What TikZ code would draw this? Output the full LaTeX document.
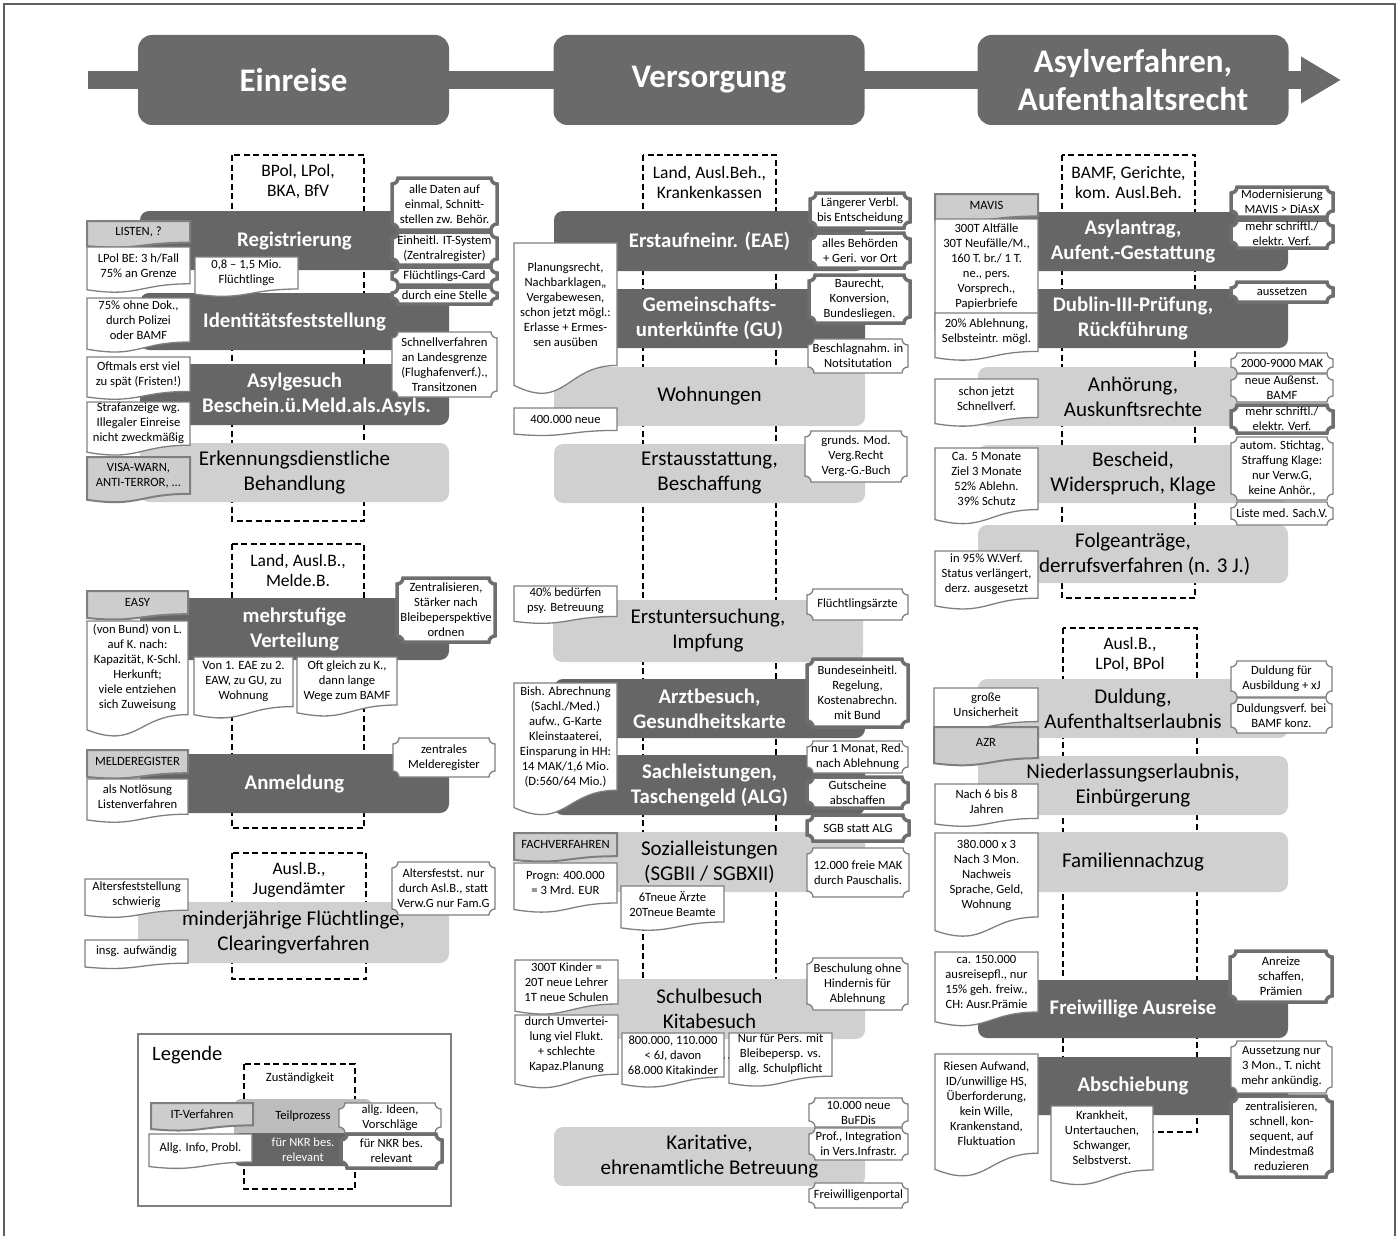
\documentclass[tikz,border=0pt]{standalone}
\usepackage{fontspec}
\setmainfont{Carlito}
\usetikzlibrary{arrows.meta}
\definecolor{dk}{HTML}{666666}
\definecolor{hd}{HTML}{6A6A6A}
\definecolor{lt}{HTML}{D0D0D0}
\definecolor{lg}{HTML}{BDBDBD}
\definecolor{itg}{HTML}{CDCDCD}
\definecolor{ln}{HTML}{7F7F7F}
\definecolor{thk}{HTML}{6E6E6E}
\definecolor{frm}{HTML}{5E5E5E}
\tikzset{
  headbox/.style={fill=hd, rounded corners=14pt, text=white, font=\bfseries\fontsize{33}{38}\selectfont, align=center, inner sep=0pt, minimum width=311pt, minimum height=90pt},
  darkproc/.style={fill=dk, rounded corners=9pt, text=white, font=\bfseries\fontsize{20.8}{25}\selectfont, align=center, inner sep=0pt},
  lightproc/.style={fill=lt, rounded corners=9pt, text=black, font=\fontsize{21}{25}\selectfont, align=center, inner sep=0pt},
  legproc/.style={fill=lg, rounded corners=7pt, text=black, font=\fontsize{12.5}{15}\selectfont, align=center, inner sep=0pt},
  legdark/.style={fill=dk, rounded corners=7pt, text=white, font=\fontsize{12.5}{15}\selectfont, align=center, inner sep=0pt},
  notetext/.style={font=\fontsize{12.6}{15}\selectfont, align=center, inner sep=0pt, text=black},
  docw/.style={draw=ln, line width=1.3pt, fill=white},
  docg/.style={draw=ln, line width=2pt, fill=itg},
  thinplaque/.style={draw=ln, line width=1.3pt, fill=white},
  thickplaque/.style={draw=thk, line width=3.5pt, fill=white},
  respbox/.style={draw=black, line width=1.8pt, dash pattern=on 6pt off 3.5pt, fill=white},
  resptext/.style={font=\fontsize{17.5}{20}\selectfont, align=center, inner sep=0pt},
}
% process box: name, x1, y1, x2, y2, style, text
\newcommand{\mkproc}[7]{%
  \pgfmathsetmacro\qW{#4-#2}\pgfmathsetmacro\qH{#5-#3}%
  \pgfmathsetmacro\qX{(#2+#4)/2}\pgfmathsetmacro\qY{(#3+#5)/2}%
  \node[#6, minimum width=\qW pt, minimum height=\qH pt] (#1) at (\qX,\qY) {#7};%
}
% document note with wavy bottom: name, x1, y1, x2, y2 (lowest), style, text
\newcommand{\mkdoc}[7]{%
  \pgfmathsetmacro\qh{#5-#3}%
  \pgfmathsetmacro\qr{#3+0.80*\qh}%
  \pgfmathsetmacro\ql{#3+0.93*\qh}%
  \pgfmathsetmacro\qc{#3+1.10*\qh}%
  \pgfmathsetmacro\qm{(#2+#4)/2}%
  \pgfmathsetmacro\qt{#3+0.40*\qh}%
  \filldraw[#6] (#2,#3) -- (#4,#3) -- (#4,\qr) .. controls (\qm,\qr) and (\qm,\qc) .. (#2,\ql) -- cycle;%
  \node[notetext] (#1) at (\qm,\qt) {#7};%
}
% plaque note with concave corners: name, x1, y1, x2, y2, style, text
\newcommand{\mkplaque}[7]{%
  \pgfmathsetmacro\pA{#2+6}\pgfmathsetmacro\pB{#4-6}%
  \pgfmathsetmacro\pC{#3+6}\pgfmathsetmacro\pD{#5-6}%
  \pgfmathsetmacro\pE{#2+3.3}\pgfmathsetmacro\pF{#4-3.3}%
  \pgfmathsetmacro\pG{#3+3.3}\pgfmathsetmacro\pH{#5-3.3}%
  \filldraw[#6] (\pA,#3) -- (\pB,#3) .. controls (\pB,\pG) and (\pF,\pC) .. (#4,\pC)
     -- (#4,\pD) .. controls (\pF,\pD) and (\pB,\pH) .. (\pB,#5)
     -- (\pA,#5) .. controls (\pA,\pH) and (\pE,\pD) .. (#2,\pD)
     -- (#2,\pC) .. controls (\pE,\pC) and (\pA,\pG) .. (\pA,#3) -- cycle;%
  \pgfmathsetmacro\qX{(#2+#4)/2}\pgfmathsetmacro\qY{(#3+#5)/2}%
  \node[notetext] (#1) at (\qX,\qY) {#7};%
}
% responsibility box: name, x1, y1, x2, y2, text y, text
\newcommand{\mkresp}[7]{%
  \draw[respbox] (#2,#3) rectangle (#4,#5);%
  \pgfmathsetmacro\qX{(#2+#4)/2}%
  \node[resptext] (#1) at (\qX,#6) {#7};%
}
\begin{document}
\begin{tikzpicture}[x=1pt,y=-1pt]
\useasboundingbox (0,0) rectangle (1400,1236);
\draw[frm, line width=1.5pt] (4,1240) -- (4,4) -- (1395,4) -- (1395,1240);
% ---------------- header
\coordinate (arrS) at (88,80);
\coordinate (arrE) at (1341,80);
\draw[hd, line width=18pt, -{Triangle[length=40pt,width=44pt]}] (arrS) -- (arrE);
\node[headbox] (hEin) at (293.5,80) {Einreise};
\node[headbox] (hVer) at (709,80) {Versorgung};
\node[headbox] (hAsy) at (1133,80) {Asylverfahren,\\Aufenthaltsrecht};
% ---------------- responsibility boxes
\mkresp{zEin1}{232}{155}{364}{521}{182}{BPol, LPol,\\BKA, BfV}
\mkresp{zEin2}{232}{544}{364}{828}{570}{Land, Ausl.B.,\\Melde.B.}
\mkresp{zEin3}{232}{853}{366}{979}{880}{Ausl.B.,\\Jugendämter}
\mkresp{zVer}{643}{155}{776}{1058}{182}{Land, Ausl.Beh.,\\Krankenkassen}
\mkresp{zAsy1}{1062}{155}{1195}{598}{182}{BAMF, Gerichte,\\kom. Ausl.Beh.}
\mkresp{zAsy2}{1063}{628}{1197}{1132}{655}{Ausl.B.,\\LPol, BPol}
% ---------------- process boxes column 1
\mkproc{pReg}{140}{211}{449}{270}{darkproc}{Registrierung}
\mkproc{pIdf}{140}{293}{449}{350}{darkproc}{Identitätsfeststellung}
\mkproc{pAsg}{140}{364}{449}{425}{darkproc}{Asylgesuch\\\hspace*{44pt}Beschein.ü.Meld.als.Asyls.}
\mkproc{pErk}{140}{443}{449}{502}{lightproc}{Erkennungsdienstliche\\Behandlung}
\mkproc{pVert}{140}{598}{449}{660}{darkproc}{mehrstufige\\Verteilung}
\mkproc{pAnm}{140}{754}{449}{813}{darkproc}{Anmeldung}
\mkproc{pMin}{138}{902}{449}{963}{lightproc}{minderjährige Flüchtlinge,\\Clearingverfahren}
% ---------------- process boxes column 2
\mkproc{pEAE}{554}{211}{865}{271}{darkproc}{Erstaufneinr. (EAE)}
\mkproc{pGU}{554}{289}{865}{348}{darkproc}{Gemeinschafts-\\unterkünfte (GU)}
\mkproc{pWoh}{554}{367}{865}{426}{lightproc}{Wohnungen}
\mkproc{pAus}{554}{444}{865}{503}{lightproc}{Erstausstattung,\\Beschaffung}
\mkproc{pUnt}{553}{600}{863}{662}{lightproc}{Erstuntersuchung,\\Impfung}
\mkproc{pArz}{554}{679}{865}{738}{darkproc}{Arztbesuch,\\Gesundheitskarte}
\mkproc{pSach}{554}{755}{865}{815}{darkproc}{Sachleistungen,\\Taschengeld (ALG)}
\mkproc{pSoz}{554}{832}{865}{892}{lightproc}{Sozialleistungen\\(SGBII / SGBXII)}
\mkproc{pSch}{554}{979}{865}{1039}{lightproc}{Schulbesuch\\Kitabesuch}
\mkproc{pKar}{554}{1127}{865}{1186}{lightproc}{Karitative,\\ehrenamtliche Betreuung}
% ---------------- process boxes column 3
\mkproc{pAnt}{978}{212}{1288}{271}{darkproc}{Asylantrag,\\Aufent.-Gestattung}
\mkproc{pDub}{978}{289}{1288}{348}{darkproc}{Dublin-III-Prüfung,\\Rückführung}
\mkproc{pAnh}{978}{367}{1288}{426}{lightproc}{Anhörung,\\Auskunftsrechte}
\mkproc{pBes}{978}{445}{1288}{503}{lightproc}{Bescheid,\\Widerspruch, Klage}
\mkproc{pFol}{978}{525}{1288}{583}{lightproc}{Folgeanträge,\\Widerrufsverfahren (n. 3 J.)}
\mkproc{pDul}{978}{679}{1288}{738}{lightproc}{Duldung,\\Aufenthaltserlaubnis}
\mkproc{pNie}{978}{756}{1288}{815}{lightproc}{Niederlassungserlaubnis,\\Einbürgerung}
\mkproc{pFam}{978}{832}{1288}{892}{lightproc}{Familiennachzug}
\mkproc{pFrw}{978}{980}{1288}{1038}{darkproc}{Freiwillige Ausreise}
\mkproc{pAbs}{978}{1057}{1288}{1115}{darkproc}{Abschiebung}
% ---------------- notes column 1 left
\mkdoc{nListen}{87}{221}{190}{248}{docg}{LISTEN, ?}
\mkdoc{nLPol}{87}{247}{190}{293}{docw}{LPol BE: 3 h/Fall\\75\% an Grenze}
\mkdoc{nOhneDok}{87}{298}{190}{353}{docw}{75\% ohne Dok.,\\durch Polizei\\oder BAMF}
\mkdoc{nOftmals}{87}{357}{190}{400}{docw}{Oftmals erst viel\\zu spät (Fristen!)}
\mkdoc{nStraf}{87}{402}{190}{456}{docw}{Strafanzeige wg.\\Illegaler Einreise\\nicht zweckmäßig}
\mkdoc{nVisa}{87}{457}{190}{503}{docg}{VISA-WARN,\\ANTI-TERROR, ...}
\mkdoc{nMio}{195}{257}{298}{297}{docw}{0,8 – 1,5 Mio.\\Flüchtlinge}
% column 1 right
\mkplaque{nDaten}{392}{178}{497}{230}{thickplaque}{alle Daten auf\\einmal, Schnitt-\\stellen zw. Behör.}
\mkplaque{nITSys}{392}{232}{497}{265}{thickplaque}{Einheitl. IT-System\\(Zentralregister)}
\mkplaque{nCard}{392}{267}{497}{285}{thickplaque}{Flüchtlings-Card}
\mkplaque{nStelle}{392}{287}{497}{304}{thickplaque}{durch eine Stelle}
\mkplaque{nSchnell}{392}{332}{497}{397}{thinplaque}{Schnellverfahren\\an Landesgrenze\\(Flughafenverf.).,\\Transitzonen}
% column 1 second group
\mkdoc{nEasy}{87}{591}{188}{620}{docg}{EASY}
\mkdoc{nBund}{87}{621}{188}{738}{docw}{(von Bund) von L.\\auf K. nach:\\Kapazität, K-Schl.\\Herkunft;\\viele entziehen\\sich Zuweisung}
\mkdoc{nVon}{194}{657}{293}{719}{docw}{Von 1. EAE zu 2.\\EAW, zu GU, zu\\Wohnung}
\mkdoc{nOft}{297}{657}{397}{717}{docw}{Oft gleich zu K.,\\dann lange\\Wege zum BAMF}
\mkplaque{nZentr}{397}{578}{495}{642}{thickplaque}{Zentralisieren,\\Stärker nach\\Bleibeperspektive\\ordnen}
\mkdoc{nMelde}{87}{750}{188}{779}{docg}{MELDEREGISTER}
\mkdoc{nNot}{87}{779}{188}{823}{docw}{als Notlösung\\Listenverfahren}
\mkplaque{nZMelde}{393}{738}{495}{777}{thinplaque}{zentrales\\Melderegister}
% column 1 third group
\mkdoc{nAltS}{85}{879}{188}{918}{docw}{Altersfeststellung\\schwierig}
\mkdoc{nAufw}{85}{940}{188}{969}{docw}{insg. aufwändig}
\mkplaque{nAltN}{392}{862}{495}{915}{thinplaque}{Altersfestst. nur\\durch Asl.B., statt\\Verw.G nur Fam.G}
% ---------------- notes column 2
\mkdoc{nPlan}{514}{243}{617}{396}{docw}{Planungsrecht,\\Nachbarklagen,,\\Vergabewesen,\\schon jetzt mögl.:\\Erlasse + Ermes-\\sen  ausüben}
\mkdoc{nNeue}{514}{408}{617}{436}{docw}{400.000 neue}
\mkplaque{nVerbl}{810}{193}{910}{228}{thickplaque}{Längerer Verbl.\\bis Entscheidung}
\mkplaque{nBeh}{810}{233}{910}{268}{thickplaque}{alles Behörden\\+ Geri. vor Ort}
\mkplaque{nBau}{809}{275}{910}{323}{thickplaque}{Baurecht,\\Konversion,\\Bundesliegen.}
\mkplaque{nBeschl}{808}{339}{908}{373}{thinplaque}{Beschlagnahm. in\\Notsitutation}
\mkplaque{nGrunds}{805}{431}{907}{482}{thinplaque}{grunds. Mod.\\Verg.Recht\\Verg.-G.-Buch}
\mkdoc{nPsy}{514}{586}{617}{624}{docw}{40\%  bedürfen\\psy. Betreuung}
\mkplaque{nAerzte}{807}{589}{908}{620}{thinplaque}{Flüchtlingsärzte}
\mkdoc{nBish}{514}{683}{617}{817}{docw}{Bish. Abrechnung\\(Sachl./Med.)\\aufw.,  G-Karte\\Kleinstaaterei,\\Einsparung in HH:\\14 MAK/1,6 Mio.\\(D:560/64 Mio.)}
\mkplaque{nBundE}{807}{659}{908}{727}{thickplaque}{Bundeseinheitl.\\Regelung,\\Kostenabrechn.\\mit Bund}
\mkplaque{nMonat}{807}{741}{908}{773}{thinplaque}{nur 1 Monat, Red.\\nach Ablehnung}
\mkplaque{nGut}{807}{777}{908}{808}{thickplaque}{Gutscheine\\abschaffen}
\mkplaque{nSGB}{807}{815}{909}{841}{thickplaque}{SGB statt ALG}
\mkdoc{nFach}{514}{833}{617}{862}{docg}{FACHVERFAHREN}
\mkdoc{nProgn}{514}{863}{617}{913}{docw}{Progn: 400.000\\= 3 Mrd. EUR}
\mkdoc{nSechsT}{621}{886}{724}{931}{docw}{6Tneue Ärzte\\20Tneue Beamte}
\mkplaque{nMAK}{807}{848}{909}{897}{thinplaque}{12.000 freie MAK\\durch Pauschalis.}
\mkdoc{nKinder}{515}{960}{618}{1015}{docw}{300T Kinder =\\20T neue Lehrer\\1T neue Schulen}
\mkdoc{nUmv}{515}{1015}{618}{1089}{docw}{durch Umvertei-\\lung viel Flukt.\\+ schlechte\\Kapaz.Planung}
\mkdoc{nKita}{622}{1033}{724}{1088}{docw}{800.000, 110.000\\< 6J, davon\\68.000 Kitakinder}
\mkdoc{nNur}{729}{1033}{832}{1087}{docw}{Nur für Pers. mit\\Bleibepersp. vs.\\allg. Schulpflicht}
\mkplaque{nBeschu}{807}{958}{908}{1010}{thinplaque}{Beschulung ohne\\Hindernis für\\Ablehnung}
\mkplaque{nBuFDi}{809}{1098}{908}{1127}{thinplaque}{10.000 neue\\BuFDis}
\mkplaque{nProf}{809}{1128}{908}{1160}{thinplaque}{Prof., Integration\\in Vers.Infrastr.}
\mkplaque{nPortal}{809}{1183}{908}{1208}{thinplaque}{Freiwilligenportal}
% ---------------- notes column 3
\mkdoc{nMavis}{935}{194}{1038}{222}{docg}{MAVIS}
\mkdoc{nAlt}{935}{219}{1038}{338}{docw}{300T Altfälle\\30T Neufälle/M.,\\160 T. br./ 1 T.\\ne., pers.\\Vorsprech.,\\Papierbriefe}
\mkdoc{nAbl}{935}{313}{1038}{361}{docw}{20\% Ablehnung,\\Selbsteintr. mögl.}
\mkdoc{nSchon}{935}{379}{1038}{427}{docw}{schon jetzt\\Schnellverf.}
\mkdoc{nCa}{935}{448}{1038}{525}{docw}{Ca. 5 Monate\\Ziel 3 Monate\\52\% Ablehn.\\39\% Schutz}
\mkdoc{nW}{935}{551}{1038}{610}{docw}{in 95\% W.Verf.\\Status verlängert,\\derz. ausgesetzt}
\mkplaque{nMod}{1231}{187}{1333}{217}{thickplaque}{Modernisierung\\MAVIS > DiAsX}
\mkplaque{nSchr}{1231}{220}{1333}{248}{thickplaque}{mehr schriftl./\\elektr. Verf.}
\mkplaque{nAussetzen}{1231}{282}{1333}{302}{thickplaque}{aussetzen}
\mkplaque{nMAK2}{1231}{353}{1333}{373}{thinplaque}{2000-9000 MAK}
\mkplaque{nAussenst}{1231}{374}{1333}{402}{thinplaque}{neue Außenst.\\BAMF}
\mkplaque{nSchr2}{1231}{405}{1333}{433}{thickplaque}{mehr schriftl./\\elektr. Verf.}
\mkplaque{nStich}{1231}{437}{1333}{500}{thinplaque}{autom. Stichtag,\\Straffung Klage:\\nur Verw.G,\\keine  Anhör.,}
\mkplaque{nListe}{1231}{502}{1333}{525}{thinplaque}{Liste med. Sach.V.}
\mkdoc{nUnsich}{934}{688}{1038}{730}{docw}{große\\Unsicherheit}
\mkdoc{nAZR}{934}{727}{1038}{766}{docg}{AZR}
\mkplaque{nDulA}{1231}{661}{1332}{697}{thinplaque}{Duldung für\\Ausbildung + xJ}
\mkplaque{nDulB}{1231}{698}{1332}{733}{thinplaque}{Duldungsverf. bei\\BAMF konz.}
\mkdoc{nSechs}{935}{784}{1038}{827}{docw}{Nach 6 bis 8\\Jahren}
\mkdoc{nFamN}{935}{833}{1038}{938}{docw}{380.000 x 3\\Nach 3 Mon.\\Nachweis\\Sprache, Geld,\\Wohnung}
\mkdoc{nAusr}{935}{952}{1038}{1027}{docw}{ca. 150.000\\ausreisepfl., nur\\15\% geh. freiw.,\\CH: Ausr.Prämie}
\mkplaque{nAnreize}{1230}{951}{1332}{1002}{thickplaque}{Anreize\\schaffen,\\Prämien}
\mkdoc{nRiesen}{935}{1054}{1038}{1178}{docw}{Riesen Aufwand,\\ID/unwillige HS,\\Überforderung,\\kein Wille,\\Krankenstand,\\Fluktuation}
\mkdoc{nKrank}{1051}{1106}{1153}{1186}{docw}{Krankheit,\\Untertauchen,\\Schwanger,\\Selbstverst.}
\mkplaque{nAussetz}{1231}{1041}{1332}{1093}{thinplaque}{Aussetzung nur\\3 Mon., T. nicht\\mehr ankündig.}
\mkplaque{nZentr2}{1231}{1096}{1332}{1177}{thickplaque}{zentralisieren,\\schnell, kon-\\sequent, auf\\Mindestmaß\\reduzieren}
% ---------------- legend
\draw[draw=ln, line width=1.5pt] (138,1034) rectangle (451,1206);
\node[anchor=west, inner sep=0pt, font=\fontsize{20.5}{25}\selectfont] (lTitle) at (152,1055) {Legende};
\draw[respbox] (244,1064) rectangle (355,1189);
\node[notetext] (lZust) at (300,1078) {Zuständigkeit};
\mkproc{lTeil}{234}{1099}{372}{1140}{legproc}{}
\node[notetext] (lTeilT) at (303,1116) {Teilprozess};
\mkproc{lNKR}{234}{1133}{372}{1166}{legdark}{für NKR bes.\\relevant}
\mkdoc{lIT}{151}{1103}{253}{1131}{docg}{IT-Verfahren}
\mkdoc{lInfo}{149}{1134}{252}{1169}{docw}{Allg. Info, Probl.}
\mkplaque{lIdeen}{339}{1103}{441}{1133}{thinplaque}{allg. Ideen,\\Vorschläge}
\mkplaque{lRel}{341}{1134}{442}{1168}{thickplaque}{für NKR bes.\\relevant}
\end{tikzpicture}
\end{document}
